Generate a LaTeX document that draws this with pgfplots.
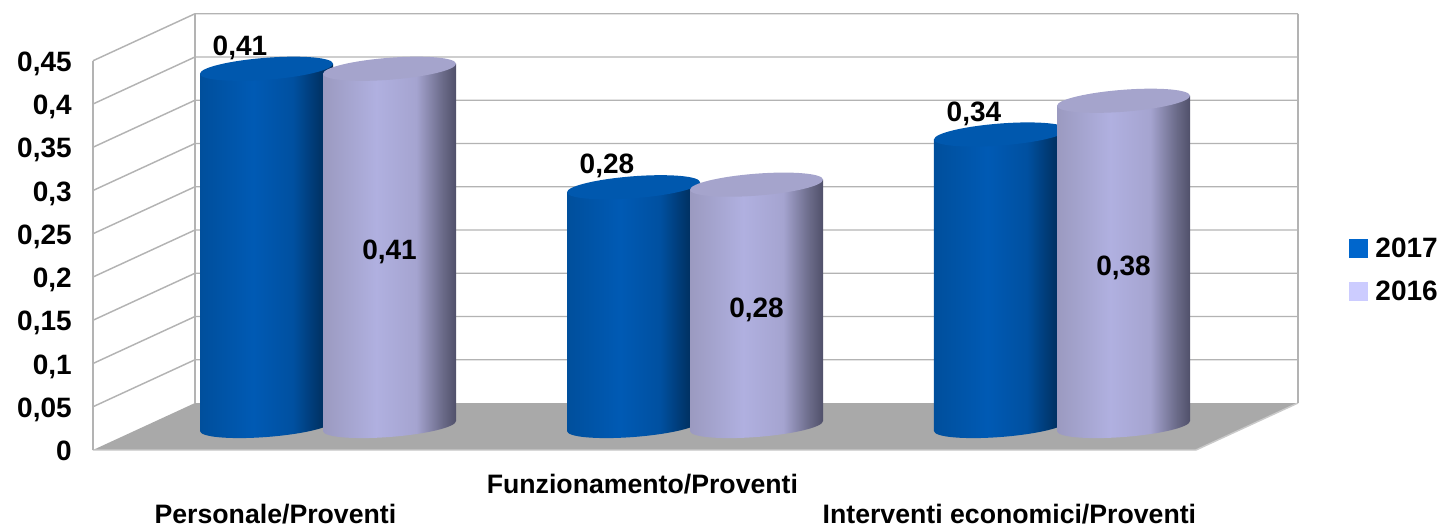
\documentclass[border=0pt]{standalone}
\usepackage{pgfplots}
\pgfplotsset{compat=1.18}
\usepackage{fontspec}
\setmainfont{Liberation Sans}
% 1 px of the reference = 0.75pt
\definecolor{gridc}{HTML}{B3B3B3}
\definecolor{floorc}{HTML}{A9A9A9}
\definecolor{legA}{HTML}{0066CC}
\definecolor{legB}{HTML}{CCCCFF}
\definecolor{topA}{HTML}{0058AE}
\definecolor{topB}{HTML}{A5A4CC}
\definecolor{a0}{HTML}{004F9C}
\definecolor{a1}{HTML}{005AB4}
\definecolor{a2}{HTML}{0050A0}
\definecolor{a3}{HTML}{003468}
\definecolor{a4}{HTML}{002A55}
\definecolor{b0}{HTML}{9B9AC0}
\definecolor{b1}{HTML}{B0B0E0}
\definecolor{b2}{HTML}{A5A4D0}
\definecolor{b3}{HTML}{6A6A88}
\definecolor{b4}{HTML}{50506A}
\pgfdeclarehorizontalshading{sA}{100bp}{color(0bp)=(a0);color(25bp)=(a0);color(45bp)=(a1);color(60bp)=(a2);color(70bp)=(a3);color(75bp)=(a4);color(100bp)=(a4)}
\pgfdeclarehorizontalshading{sB}{100bp}{color(0bp)=(b0);color(25bp)=(b0);color(45bp)=(b1);color(60bp)=(b2);color(70bp)=(b3);color(75bp)=(b4);color(100bp)=(b4)}
\newlength\cylh
\newcommand\cylbody{%
  \pgfmathsetlength\cylh{\val*648.75}%
  \pgftransformshift{\pgfqpoint{38.25pt}{18pt}}%
  \pgfpathmoveto{\pgfpoint{-49.875pt}{-3.75pt-\cylh}}%
  \pgfpathlineto{\pgfpoint{49.875pt}{3.75pt-\cylh}}%
  \pgfpathlineto{\pgfqpoint{49.875pt}{3.75pt}}%
  \pgfpathlineto{\pgfqpoint{-49.875pt}{-3.75pt}}%
  \pgfpathclose
  \pgfpathellipse{\pgfpoint{0pt}{-\cylh}}{\pgfqpoint{49.875pt}{3.75pt}}{\pgfqpoint{0pt}{8.25pt}}%
}
\newcommand\cyltop[1]{%
  \pgfpathellipse{\pgfpointorigin}{\pgfqpoint{49.875pt}{3.75pt}}{\pgfqpoint{0pt}{8.25pt}}%
  \pgfsetfillcolor{#1}\pgfusepath{fill}%
}
\pgfdeclareplotmark{cylA}{\cylbody\pgfshadepath{sA}{0}\pgfusepath{discard}\cyltop{topA}}
\pgfdeclareplotmark{cylB}{\cylbody\pgfshadepath{sB}{0}\pgfusepath{discard}\cyltop{topB}}
\pgfplotstableread{
x v
-0.1676 0.413
0.8324 0.276
1.8324 0.337
}\dataA
\pgfplotstableread{
x v
0.1676 0.413
1.1676 0.279
2.1676 0.376
}\dataB
\begin{document}
\begin{tikzpicture}
\useasboundingbox (-69.75pt,-56.25pt) rectangle (1009.5pt,337.5pt);
\begin{axis}[
  at={(0,0)}, anchor=south west,
  scale only axis, width=827.25pt, height=291.94pt,
  clip=false,
  xmin=-0.5014, xmax=2.5041, ymin=0, ymax=0.45,
  axis line style={draw=none},
  major tick length=0pt,
  font=\fontsize{21}{21}\selectfont\bfseries,
  ytick={0,0.05,0.1,0.15,0.2,0.25,0.3,0.35,0.4,0.45},
  yticklabels={{0},{0,05},{0,1},{0,15},{0,2},{0,25},{0,3},{0,35},{0,4},{0,45}},
  yticklabel style={anchor=base east, inner sep=0pt, xshift=-15.75pt, yshift=-7.9pt},
  xtick={0,2},
  xticklabels={Personale/Proventi,Interventi economici/Proventi},
  xticklabel style={anchor=base, inner sep=0pt, xshift=-1.2pt, yshift=-55.3pt, font=\fontsize{20}{20}\selectfont\bfseries},
  extra x ticks={1},
  extra x tick labels={Funzionamento/Proventi},
  extra x tick style={xticklabel style={yshift=22.4pt}},
  legend style={at={(axis description cs:1.1387,0.4624)}, anchor=west, draw=none, fill=none,
    inner sep=0pt, row sep=11.75pt},
  legend cell align=left,
]
% floor and walls
\fill[floorc] (rel axis cs:0,0) -- ++(76.5pt,35.25pt) -- ++(827.25pt,0pt) -- ++(-76.5pt,-35.25pt) -- cycle;
\draw[gridc!70!white, line width=1.1pt] (rel axis cs:0,0) -- (rel axis cs:1,0) -- ++(76.5pt,35.25pt);
\pgfplotsinvokeforeach{0.05,0.1,0.15,0.2,0.25,0.3,0.35,0.4,0.45}{
  \draw[gridc, line width=1.1pt] (axis cs:-0.5014,#1) -- ++(76.5pt,35.25pt) -- ++(827.25pt,0pt);
}
\draw[gridc, line width=0.8pt] (axis cs:-0.5014,0) -- (axis cs:-0.5014,0.45);
\draw[gridc, line width=1.1pt] (axis cs:-0.5014,0) ++(76.5pt,35.25pt) -- ++(0pt,291.94pt);
\draw[gridc, line width=1.1pt] (axis cs:2.5041,0) ++(76.5pt,35.25pt) -- ++(0pt,291.94pt);
% cylinders
\addplot[scatter, only marks, mark=cylA, point meta=y,
  visualization depends on={rawy \as \val},
  nodes near coords={\pgfmathprintnumber[fixed,fixed zerofill,precision=2,use comma,assume math mode=true]{\pgfplotspointmeta}},
  every node near coord/.append style={anchor=center, inner sep=0pt, xshift=-19.9pt, yshift=15.75pt, font=\fontsize{21}{21}\selectfont\bfseries, text=black},
  legend image code/.code={\fill[legA] (0pt,-6.75pt) rectangle (13.5pt,6.75pt);\path (17.25pt,0pt);}
] table [x=x, y=v] {\dataA};
\addlegendentry{2017}
\addplot[scatter, only marks, mark=cylB, point meta=y,
  visualization depends on={rawy \as \val},
  nodes near coords={\pgfmathprintnumber[fixed,fixed zerofill,precision=2,use comma,assume math mode=true]{\pgfplotspointmeta}},
  every node near coord/.append style={anchor=center, inner sep=0pt, xshift=0pt, yshift={-3.75pt-\val*324.375pt}, font=\fontsize{21}{21}\selectfont\bfseries, text=black},
  legend image code/.code={\fill[legB] (0pt,-6.75pt) rectangle (13.5pt,6.75pt);\path (17.25pt,0pt);}
] table [x=x, y=v] {\dataB};
\addlegendentry{2016}
\end{axis}
\end{tikzpicture}
\end{document}
